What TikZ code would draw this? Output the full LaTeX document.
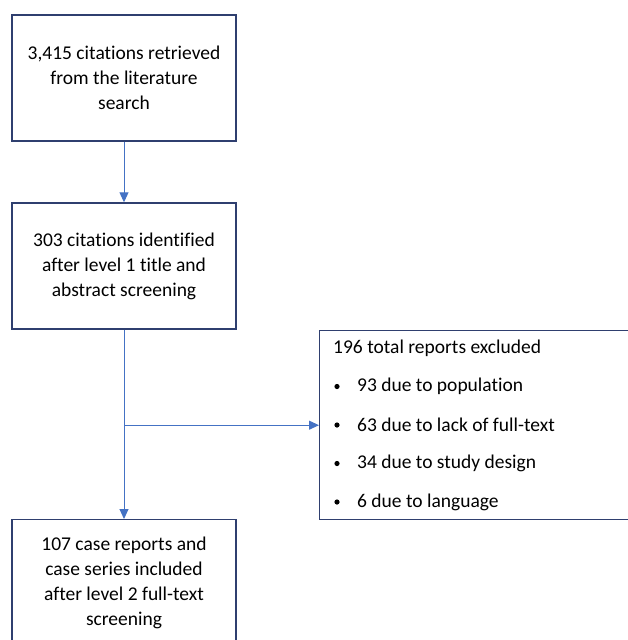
\documentclass[tikz,border=0pt]{standalone}
\usepackage{fontspec}
\setmainfont{Carlito}[Ligatures=NoCommon]
\usetikzlibrary{arrows.meta}
\definecolor{boxline}{HTML}{2F3F6F}
\definecolor{arrowblue}{HTML}{4472C4}
\begin{document}
\begin{tikzpicture}[x=1pt,y=1pt,
  flowbox/.style={draw=boxline,line width=1.4pt,minimum width=224pt,inner sep=0pt,align=center,font=\fontsize{19.5}{25}\selectfont},
  conn/.style={draw=arrowblue,line width=1pt},
  arr/.style={conn,-{Triangle[length=10pt,width=9pt]}},
  txt/.style={anchor=west,inner sep=0pt,font=\fontsize{19.5}{25}\selectfont}]
\useasboundingbox (0,0) rectangle (628,-640);
\clip (0,0) rectangle (628,-640);
\node[flowbox,minimum height=126pt] (a) at (124,-78) {3,415 citations retrieved\\from the literature\\search};
\node[flowbox,minimum height=126pt] (b) at (124,-266) {303 citations identified\\after level 1 title and\\abstract screening};
\node[flowbox,minimum height=140pt,anchor=north] (d) at (124,-519) {};
\node[align=center,inner sep=0pt,font=\fontsize{19.5}{25}\selectfont] (dt) at (124,-582.5) {107 case reports and\\case series included\\after level 2 full-text\\screening};
\node[draw=boxline,line width=1.4pt,anchor=north west,minimum width=330pt,minimum height=189pt,inner sep=0pt] (c) at (319,-330) {};
\node[txt] (c0) at (333,-348) {196 total reports excluded};
\node[txt] (c1) at (357,-386.5) {93 due to population};
\node[txt] (c2) at (357,-425) {63 due to lack of full-text};
\node[txt] (c3) at (357,-463.5) {34 due to study design};
\node[txt] (c4) at (357,-502) {6 due to language};
\foreach \i in {1,...,4}{\fill (337,{-348-38.5*\i}) circle (2.6pt);}
\draw[arr] (a.south) -- (b.north);
\draw[arr] (b.south) -- (d.north);
\coordinate (j) at (b.south |- c.west);
\draw[arr] (j) -- (c.west);
\end{tikzpicture}
\end{document}
